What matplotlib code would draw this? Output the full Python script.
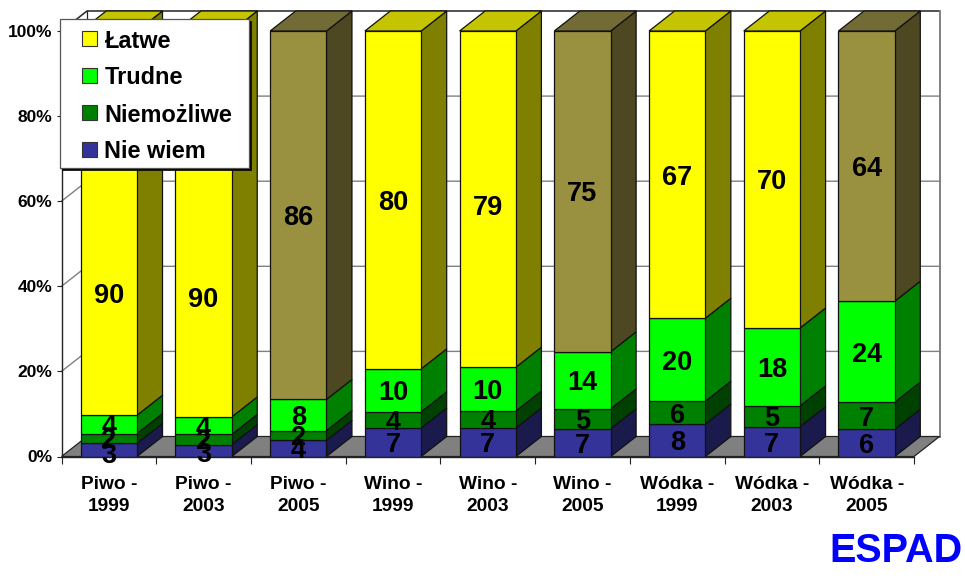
import matplotlib
matplotlib.use("Agg")
import matplotlib.pyplot as plt
from matplotlib.patches import Polygon, Rectangle
from matplotlib.ticker import FixedLocator, FuncFormatter
from matplotlib.transforms import Affine2D
import numpy as np

plt.rcParams['font.family'] = ['Liberation Sans', 'DejaVu Sans']
plt.rcParams['font.weight'] = 'bold'

categories = ["Piwo -\n1999", "Piwo -\n2003", "Piwo -\n2005",
              "Wino -\n1999", "Wino -\n2003", "Wino -\n2005",
              "Wódka -\n1999", "Wódka -\n2003", "Wódka -\n2005"]
# segment heights (% of the stack)
nie_wiem   = [3.1, 2.8, 3.8, 6.7, 6.7, 6.5, 7.6, 7.0, 6.4]
niemozliwe = [2.3, 2.4, 2.3, 3.8, 4.0, 4.7, 5.4, 4.9, 6.4]
trudne     = [4.3, 4.1, 7.3, 10.1, 10.3, 13.4, 19.5, 18.3, 23.7]
latwe      = [90.3, 90.7, 86.6, 79.4, 79.0, 75.4, 67.5, 69.8, 63.5]
# printed labels
lab_nie_wiem   = [3, 3, 4, 7, 7, 7, 8, 7, 6]
lab_niemozliwe = [2, 2, 2, 4, 4, 5, 6, 5, 7]
lab_trudne     = [4, 4, 8, 10, 10, 14, 20, 18, 24]
lab_latwe      = [90, 90, 86, 80, 79, 75, 67, 70, 64]
y_ticks = [0, 20, 40, 60, 80, 100]

W, H = 965, 581
fig = plt.figure(figsize=(W / 100, H / 100), dpi=100, facecolor='white')
X0, X1, Y0, Y1 = 61.5, 914, 456.5, 31   # front plane in pixels
ax = fig.add_axes([X0 / W, 1 - Y0 / H, (X1 - X0) / W, (Y0 - Y1) / H])
ax.set_xlim(0, 9)
ax.set_ylim(0, 100)
ax.patch.set_alpha(0)

px_x = 9 / (X1 - X0)
px_y = 100 / (Y0 - Y1)
DX = 25.5 * px_x
DY = 20 * px_y
LW = 0.9
BAR_W = 56.3 * px_x

# walls and floor
ax.add_patch(Polygon([(0, 0), (DX, DY), (9 + DX, DY), (9, 0)], closed=True,
                     fc='#808080', ec='#222222', lw=LW, clip_on=False, zorder=1.2))
GRID = '#808080'
for t in y_ticks[1:-1]:
    ax.plot([0, DX, 9 + DX], [t, t + DY, t + DY], color=GRID, lw=1.0, clip_on=False, zorder=1)
ax.plot([0, DX, 9 + DX], [100, 100 + DY, 100 + DY], color='#333333', lw=1.2, clip_on=False, zorder=1)
ax.plot([DX, DX], [DY, 100 + DY], color='#222222', lw=0.9, clip_on=False, zorder=1)
ax.plot([9 + DX, 9 + DX], [DY, 100 + DY], color=GRID, lw=1.4, clip_on=False, zorder=1)

series = [nie_wiem, niemozliwe, trudne, latwe]
labels = [lab_nie_wiem, lab_niemozliwe, lab_trudne, lab_latwe]
names = ["Nie wiem", "Niemożliwe", "Trudne", "Łatwe"]
front = ['#333399', '#008000', '#00FF00', '#FFFF00']
side = ['#1A1A4D', '#004000', '#008000', '#808000']
top = ['#28287A', '#006000', '#00C000', '#C4C400']
olive = ('#99913F', '#4D4722', '#736B35')
olive_idx = {2, 5, 8}

x = np.arange(len(categories)) + 0.5
bottom = np.zeros(len(categories))
label_shift_px = {(0, 0): 3, (1, 0): 1, (0, 3): 70, (1, 3): 73, (4, 3): 6}

for s, (vals, labs) in enumerate(zip(series, labels)):
    vals = np.array(vals, float)
    for i in range(len(x)):
        if s == 3 and i in olive_idx:
            f, sd, tp = olive
        else:
            f, sd, tp = front[s], side[s], top[s]
        b, h = bottom[i], vals[i]
        l, r = x[i] - BAR_W / 2, x[i] + BAR_W / 2
        ax.bar(x[i], h, BAR_W, bottom=b, color=f, edgecolor='#111111', lw=LW, zorder=3)
        ax.add_patch(Polygon([(r, b), (r + DX, b + DY), (r + DX, b + h + DY), (r, b + h)],
                             closed=True, fc=sd, ec='#111111', lw=LW, clip_on=False, zorder=2.5))
        if s == 3:
            ax.add_patch(Polygon([(l, b + h), (l + DX, b + h + DY), (r + DX, b + h + DY), (r, b + h)],
                                 closed=True, fc=tp, ec='#111111', lw=LW, clip_on=False, zorder=2.5))
    bottom += vals

bottom = np.zeros(len(categories))
for s, (vals, labs) in enumerate(zip(series, labels)):
    vals = np.array(vals, float)
    for i in range(len(x)):
        ax.annotate(str(labs[i]), (x[i], bottom[i] + vals[i] / 2),
                    xytext=(0, -label_shift_px.get((i, s), 0) * 0.72),
                    textcoords='offset points', ha='center', va='center_baseline',
                    fontsize=19.5, fontweight='bold', color='black', zorder=5)
    bottom += vals

# axes furniture
for sp in ('top', 'right'):
    ax.spines[sp].set_visible(False)
for sp in ('left', 'bottom'):
    ax.spines[sp].set_color('#222222')
    ax.spines[sp].set_linewidth(1.0)
    ax.spines[sp].set_zorder(4)
ax.set_yticks(y_ticks)
ax.yaxis.set_major_formatter(FuncFormatter(lambda v, _: f"{int(v)}%"))
ax.tick_params(axis='y', length=3.5, width=0.8, pad=3, labelsize=12.5, color='#222222')
ax.set_xticks(np.arange(0, 10))
ax.set_xticklabels([])
ax.xaxis.set_minor_locator(FixedLocator(x))
ax.set_xticklabels(categories, minor=True, fontsize=13.8, fontweight='bold', linespacing=1.38)
ax.tick_params(axis='x', which='major', length=5, width=0.8, color='#222222')
ax.tick_params(axis='x', which='minor', length=0, pad=14)

# legend box, laid out in figure pixels
tr = Affine2D().scale(1 / W, -1 / H).translate(0, 1) + fig.transFigure
fig.add_artist(Rectangle((61.5, 21), 189, 148.5, transform=tr, fc='black', ec='black', lw=0.5, zorder=10))
fig.add_artist(Rectangle((59.5, 19), 189, 148.5, transform=tr, fc='white', ec='#555555', lw=0.9, zorder=11))
for k, n in enumerate(reversed(names)):
    yc = 38.5 + 37 * k
    fig.add_artist(Rectangle((81.5, yc - 7.5), 15, 15, transform=tr,
                             fc=front[names.index(n)], ec='#333333', lw=0.8, zorder=12))
    fig.text(104.5 / W, 1 - yc / H, n, fontsize=16.9, fontweight='bold', color='black',
             ha='left', va='center_baseline', zorder=12)

fig.text(963 / W, 1 - 547 / H, "ESPAD", color='#0000FF', fontsize=28.5, fontweight='bold',
         ha='right', va='center_baseline')

fig.savefig('out.png', dpi=100, facecolor='white')
